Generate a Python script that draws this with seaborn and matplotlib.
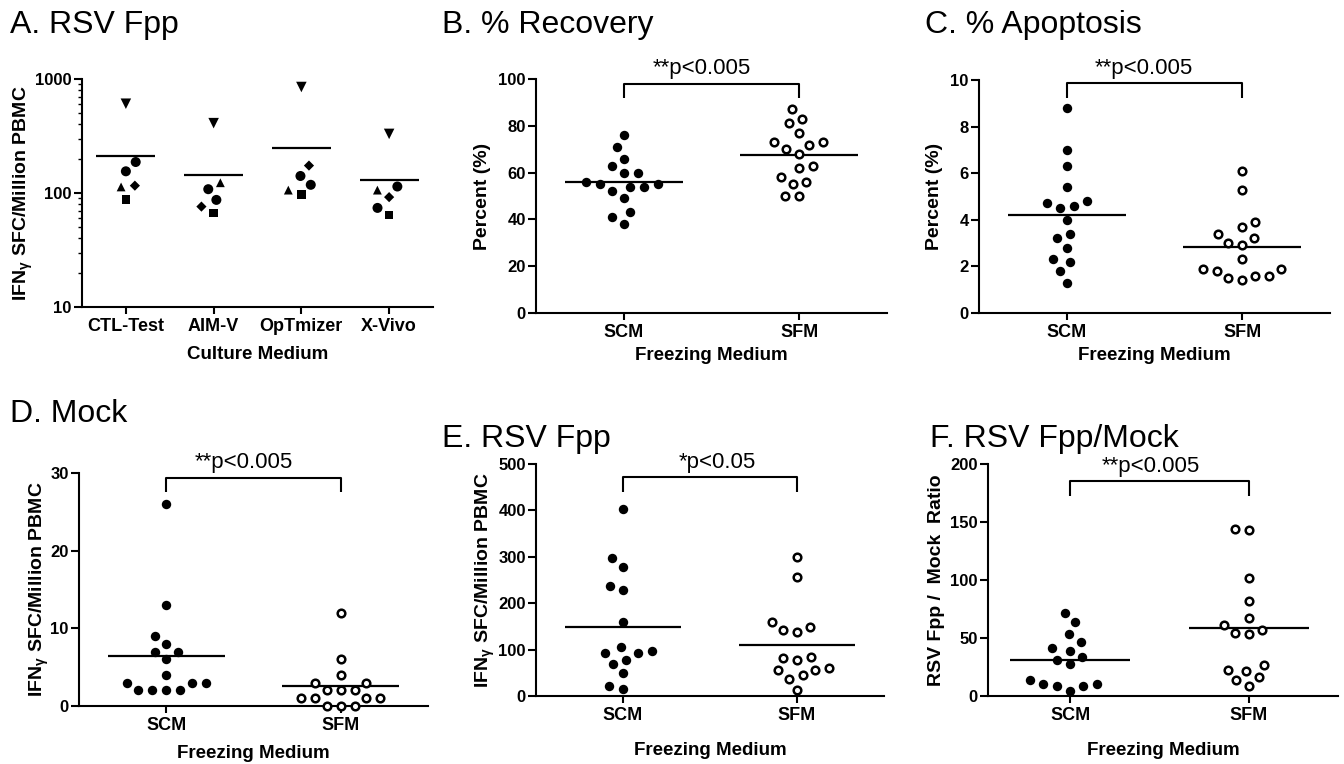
import numpy as np
import pandas as pd
import matplotlib
matplotlib.use("Agg")
import matplotlib.pyplot as plt
import seaborn as sns
from matplotlib.markers import MarkerStyle
from matplotlib.ticker import LogLocator, NullFormatter, FixedLocator, FixedFormatter

# ---------------- data ----------------
# Panel A: IFNg SFC per million PBMC, RSV Fpp, by culture medium (6 donors)
culture_media = ["CTL-Test", "AIM-V", "OpTmizer", "X-Vivo"]
donors = ["d1", "d2", "d3", "d4", "d5", "d6"]
donor_markers = ["v", "o", "o", "D", "^", "s"]
ctl_test = [607, 187, 155, 116, 113, 88]
aim_v = [410, 108, 87, 76, 123, 67]
optmizer = [851, 141, 118, 174, 106, 97]
x_vivo = [330, 114, 74, 92, 106, 64]

# Panels B-F: SCM vs SFM freezing medium
groups = ["SCM", "SFM"]
recovery_scm = [76, 71, 66, 63, 60, 60, 55, 54, 56, 54, 55, 52, 49, 43, 41, 38]
recovery_sfm = [87, 83, 81, 77, 73, 73, 72, 70, 68, 62, 63, 58, 55, 56, 50, 50]
apoptosis_scm = [8.8, 7.0, 6.3, 5.4, 4.7, 4.5, 4.8, 4.6, 4.0, 3.4, 3.2, 2.8, 2.3, 2.2, 1.8, 1.3]
apoptosis_sfm = [6.1, 5.3, 3.9, 3.7, 3.4, 3.2, 2.9, 3.0, 2.3, 1.9, 1.8, 1.6, 1.4, 1.5, 1.6, 1.9]
mock_scm = [26, 13, 9, 8, 7, 7, 6, 4, 3, 3, 3, 2, 2, 2, 2]
mock_sfm = [12, 6, 4, 3, 3, 2, 2, 2, 1, 1, 1, 1, 0, 0, 0]
fpp_scm = [404, 297, 279, 236, 228, 159, 105, 97, 92, 92, 78, 69, 49, 22, 15]
fpp_sfm = [300, 256, 159, 149, 142, 137, 85, 82, 78, 60, 57, 55, 45, 37, 13]
ratio_scm = [71.6, 63.8, 53.4, 46.8, 41.4, 39.1, 33.6, 30.7, 27.6, 13.5, 10.6, 10.6, 8.6, 8.6, 4.3]
ratio_sfm = [143.7, 142.8, 101.4, 82.2, 67.2, 61.5, 57.2, 54.6, 53.7, 27.0, 22.7, 21.3, 16.4, 13.5, 8.6]

titles = ["A. RSV Fpp", "B. % Recovery", "C. % Apoptosis", "D. Mock", "E. RSV Fpp", "F. RSV Fpp/Mock"]
sig_texts = ["**p<0.005", "**p<0.005", "**p<0.005", "*p<0.05", "**p<0.005"]
ifn_label = r"IFN$\mathregular{_{\gamma}}$ SFC/Million PBMC"

# ---------------- style ----------------
sns.set_style("ticks")
plt.rcParams["font.family"] = ["Liberation Sans", "DejaVu Sans"]
plt.rcParams["font.weight"] = "bold"
plt.rcParams["axes.labelweight"] = "bold"
for k in ["text.color", "axes.labelcolor", "xtick.color", "ytick.color", "axes.edgecolor"]:
    plt.rcParams[k] = "black"
plt.rcParams["mathtext.fontset"] = "custom"
plt.rcParams["mathtext.rm"] = "Liberation Sans:bold"
plt.rcParams["mathtext.bf"] = "Liberation Sans:bold"
plt.rcParams["mathtext.it"] = "Liberation Sans:italic:bold"

W, H = 1344, 764
fig = plt.figure(figsize=(W / 100, H / 100), dpi=100)


def add_ax(l, t, r, b):
    return fig.add_axes([l / W, 1 - b / H, (r - l) / W, (b - t) / H])


def style_ax(ax, xlim):
    ax.set_xlim(*xlim)
    for s in ["top", "right"]:
        ax.spines[s].set_visible(False)
    for s in ["left", "bottom"]:
        ax.spines[s].set_linewidth(1.5)
        ax.spines[s].set_color("black")
    ax.tick_params(axis="y", which="major", direction="out", length=5.8, width=1.5,
                   labelsize=12, pad=1.5, colors="black")
    ax.tick_params(axis="x", which="major", direction="out", length=5.2, width=1.5,
                   labelsize=13, pad=3, colors="black")
    ax.grid(False)


swarm_fix = []  # (collection, display size, facecolor, edgecolor, linewidth)

# ---------------- Panel A ----------------
axA = add_ax(82, 79, 433, 307)
dfA = pd.DataFrame({
    "medium": np.repeat(culture_media, len(donors)),
    "donor": donors * len(culture_media),
    "value": ctl_test + aim_v + optmizer + x_vivo,
})
n_before = len(axA.collections)
sns.swarmplot(data=dfA, x="medium", y="value", order=culture_media, ax=axA,
              color="black", size=9.5, linewidth=0)
collsA = axA.collections[n_before:]
marker_scale = {"v": 1.05, "o": 1.0, "D": 0.72, "^": 0.88, "s": 0.85}


def mpath(m):
    ms = MarkerStyle(m)
    return ms.get_path().transformed(ms.get_transform().scale(marker_scale[m]))


for coll, med in zip(collsA, culture_media):
    sub = dfA[dfA["medium"] == med]
    coll.set_paths([mpath(donor_markers[donors.index(d)]) for d in sub["donor"]])
    swarm_fix.append((coll, 52, "black", "black", 0))

meansA = dfA.groupby("medium")["value"].mean().reindex(culture_media)
posA = np.arange(len(culture_media))
axA.hlines(meansA.values, posA - 0.335, posA + 0.335, color="black", lw=1.6, zorder=3)
axA.set_yscale("log")
axA.set_ylim(10, 1000)
axA.yaxis.set_major_locator(FixedLocator([10, 100, 1000]))
axA.yaxis.set_major_formatter(FixedFormatter(["10", "100", "1000"]))
axA.yaxis.set_minor_locator(LogLocator(base=10, subs=np.arange(2, 10)))
axA.yaxis.set_minor_formatter(NullFormatter())
style_ax(axA, (-0.5, 3.5))
axA.tick_params(axis="y", which="minor", direction="out", length=3, width=1.0)
axA.set_xlabel("Culture Medium", fontsize=13.5)
axA.set_ylabel(ifn_label, fontsize=14)
axA.xaxis.set_label_coords(0.5, -0.17)
axA.yaxis.set_label_coords(-0.135, 0.5)

# ---------------- Panels B-F ----------------
panels = [
    # (box px, xlim, scm, sfm, ylim, yticks, ylabel, xlabel y, ylabel x, bracket (top, low), text dx px)
    ((536, 79, 887, 313), (-0.5, 1.5), recovery_scm, recovery_sfm, (0, 100),
     [0, 20, 40, 60, 80, 100], "Percent (%)", -0.145, -0.128, (98, 92), -10),
    ((979, 80, 1330, 313), (-0.5, 1.5), apoptosis_scm, apoptosis_sfm, (0, 10),
     [0, 2, 4, 6, 8, 10], "Percent (%)", -0.145, -0.103, (9.86, 9.23), -11),
    ((79, 473, 428, 706), (-0.5, 1.5), mock_scm, mock_sfm, (0, 30),
     [0, 10, 20, 30], ifn_label, -0.168, -0.080, (29.4, 27.6), -10),
    ((536, 464, 884, 696), (-0.5, 1.5), fpp_scm, fpp_sfm, (0, 500),
     [0, 100, 200, 300, 400, 500], ifn_label, -0.198, -0.112, (471, 440), 7),
    ((988, 464, 1338, 696), (-0.46, 1.5), ratio_scm, ratio_sfm, (0, 200),
     [0, 50, 100, 150, 200], "RSV Fpp /  Mock  Ratio", -0.198, -0.122, (185, 172), -9),
]

for (box, xlim, scm, sfm, ylim, yticks, ylab, xly, ylx, br, dx), sig in zip(panels, sig_texts):
    ax = add_ax(*box)
    df = pd.DataFrame({"medium": ["SCM"] * len(scm) + ["SFM"] * len(sfm),
                       "value": scm + sfm})
    n_before = len(ax.collections)
    sns.swarmplot(data=df, x="medium", y="value", order=groups, ax=ax,
                  color="black", size=9.6, linewidth=0)
    colls = ax.collections[n_before:]
    swarm_fix.append((colls[0], 46, "black", "black", 0))
    swarm_fix.append((colls[1], 30, "white", "black", 1.8))
    means = df.groupby("medium")["value"].mean().reindex(groups)
    pos = np.arange(len(groups))
    ax.hlines(means.values, pos - 0.335, pos + 0.335, color="black", lw=1.6, zorder=3)
    ax.set_ylim(*ylim)
    ax.set_yticks(yticks)
    style_ax(ax, xlim)
    ax.set_xlabel("Freezing Medium", fontsize=13.5)
    ax.set_ylabel(ylab, fontsize=14)
    ax.xaxis.set_label_coords(0.5, xly)
    ax.yaxis.set_label_coords(ylx, 0.5)
    # significance bracket
    top, low = br
    ax.plot([0, 0, 1, 1], [low, top, top, low], color="black", lw=1.5,
            clip_on=False, solid_capstyle="butt", zorder=4)
    ax.annotate(sig, xy=(0.5, top), xytext=(dx * 0.72, 7), textcoords="offset points",
                ha="center", va="baseline", fontsize=16, fontweight="normal",
                annotation_clip=False)

# ---------------- titles ----------------
title_pos = [(10, 33), (442, 33), (925, 33), (10, 422), (442, 447), (930, 447)]
for t, (x, y) in zip(titles, title_pos):
    fig.text(x / W, 1 - y / H, t, fontsize=23, fontweight="normal",
             ha="left", va="baseline")

# compute swarm layout with wider spacing, then freeze and shrink markers
fig.canvas.draw()
for coll, s, fc, ec, lw in swarm_fix:
    if "draw" in coll.__dict__:
        del coll.draw
    coll.set_sizes([s])
    coll.set_facecolor(fc)
    coll.set_edgecolor(ec)
    coll.set_linewidth(lw)
    coll.set_zorder(5)
    coll.set_clip_on(False)

fig.savefig("out.png", dpi=100)
